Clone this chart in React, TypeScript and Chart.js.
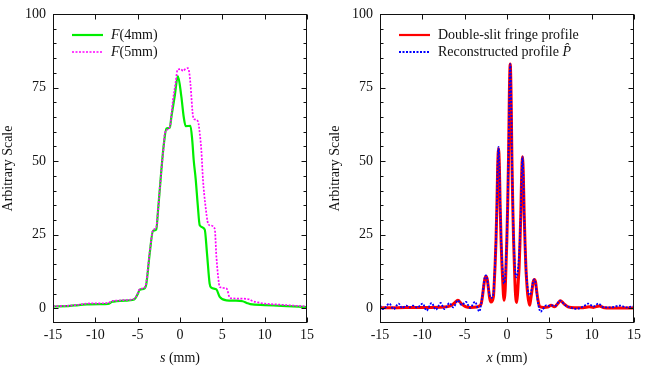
import { useEffect, useRef } from "react";
import { Chart, registerables } from "chart.js";
Chart.register(...registerables);

const FONT = '"Liberation Serif", "Times New Roman", serif';
const FS = 14;

// ---- tick labels ----
const xTicks = [-15, -10, -5, 0, 5, 10, 15];
const yTicks = [0, 25, 50, 75, 100];
const yMinorStep = 5;

// ---- left panel: F(4mm), F(5mm) ----
const s4 = [-15, -13, -12, -11, -9.5, -8.5, -8.0, -7.5, -6.5, -5.6, -5.3, -5.0, -4.76, -4.17, -3.97, -3.58, -3.19, -2.8, -2.6, -2.2, -1.9, -1.6, -1.2, -1.02, -0.63, -0.25, 0.16, 0.44, 0.67, 1.23, 1.45, 1.62, 1.85, 2.1, 2.33, 2.92, 3.19, 3.5, 3.7, 4.3, 4.69, 5.48, 6.5, 7.4, 7.9, 8.3, 10, 12, 15];
const f4 = [0.6, 0.8, 1.1, 1.3, 1.4, 1.5, 2.2, 2.4, 2.6, 2.8, 3.3, 4.8, 6.3, 6.8, 8.4, 18.6, 26.3, 26.8, 33, 47, 56, 61.1, 61.4, 65, 71.9, 78.9, 71.9, 65, 61.9, 62.0, 57, 50.3, 44, 35, 28.2, 26.8, 18.6, 8.4, 7.0, 6.4, 3.9, 2.7, 2.6, 2.4, 1.8, 1.4, 1.1, 0.8, 0.4];

const s5 = [-15, -13, -12, -11, -9.5, -8.5, -8.0, -7.5, -6.5, -5.6, -5.3, -5.0, -4.76, -4.17, -3.97, -3.58, -3.19, -2.8, -2.6, -2.2, -1.9, -1.8, -1.2, -0.83, -0.5, -0.3, 0.1, 0.35, 0.6, 0.94, 1.1, 1.23, 1.55, 1.74, 2.13, 2.35, 2.52, 2.72, 3.0, 3.31, 3.5, 4.1, 4.3, 4.6, 4.7, 5.5, 5.9, 7.0, 8.2, 8.6, 9.2, 10, 12, 15];
const f5 = [0.7, 0.9, 1.2, 1.6, 1.7, 1.8, 2.5, 2.6, 2.8, 3.0, 3.5, 5.0, 6.5, 7.0, 9, 19, 26.5, 27.5, 33, 47, 56, 59.4, 61.7, 70.7, 77, 81.0, 81.3, 80.6, 81.2, 81.6, 80, 76.4, 65, 64.2, 63.5, 59, 53.7, 43.5, 35, 28.8, 28.2, 27.1, 17.5, 8.4, 7.2, 6.7, 3.5, 3.3, 3.0, 2.4, 2.0, 1.6, 1.2, 0.6];

// ---- right panel: double-slit fringe profile & reconstruction ----
const xRed = [-15, -13, -11, -9, -7.5, -6.7, -6.2, -5.8, -5.4, -4.9, -4.3, -3.6, -3.25,
  -3.05, -2.9, -2.75, -2.62, -2.48, -2.34, -2.2, -2.05, -1.89,
  -1.6, -1.5, -1.4, -1.3, -1.2, -1.1, -1.0, -0.9, -0.8, -0.7, -0.6, -0.5, -0.42, -0.33,
  -0.22, -0.12, -0.02, 0.08, 0.18, 0.28, 0.38, 0.48, 0.58, 0.68, 0.78, 0.88, 0.98, 1.14,
  1.25, 1.33, 1.43, 1.53, 1.63, 1.73, 1.83, 1.93, 2.03, 2.13, 2.23, 2.33, 2.45, 2.68,
  2.8, 2.95, 3.08, 3.23, 3.38, 3.52, 3.68, 3.85,
  4.3, 4.8, 5.2, 5.6, 6.0, 6.3, 6.7, 7.2, 8, 9, 9.7, 10.2, 10.9, 11.5, 13, 15];
const yRed = [0.2, 0.2, 0.3, 0.3, 0.4, 0.8, 1.8, 2.7, 1.6, 0.6, 0.3, 0.4, 0.8,
  1.5, 4, 7.5, 10, 10.9, 10, 7, 3.5, 2.1,
  4, 9, 15, 23, 34, 48, 54.3, 48, 34, 23, 15, 9, 4.5, 2.7,
  6, 14, 23, 35, 51, 73, 83, 73, 51, 35, 23, 14, 6, 2.0,
  5, 9, 14, 22, 32, 45, 51.5, 45, 32, 22, 14, 9, 4.5, 1.0,
  3, 6, 8.8, 9.8, 8.8, 5.5, 2.5, 0.6,
  0.3, 0.4, 1.0, 0.5, 1.6, 2.6, 1.6, 0.5, 0.2, 0.2, 0.5, 0.3, 0.8, 0.2, 0.1, 0.1];

const xBlue = [-15, -14.6, -13.9, -13.4, -12.8, -12.4, -11.9, -11.5, -11.1, -10.6, -9.96, -9.5, -8.9, -8.4, -7.83, -7.4, -6.8, -6.34, -5.8, -5.35, -4.85, -4.37, -3.78, -3.27,
  -3.05, -2.9, -2.75, -2.62, -2.48, -2.34, -2.2, -2.05, -1.89,
  -1.6, -1.5, -1.4, -1.3, -1.2, -1.1, -1.0, -0.9, -0.8, -0.7, -0.6, -0.5, -0.35,
  -0.22, -0.12, -0.02, 0.08, 0.18, 0.28, 0.38, 0.48, 0.58, 0.68, 0.78, 0.88, 0.98, 1.14,
  1.25, 1.33, 1.43, 1.53, 1.63, 1.73, 1.83, 1.93, 2.03, 2.13, 2.23, 2.33, 2.45, 2.65,
  2.8, 2.95, 3.08, 3.23, 3.38, 3.52, 3.7, 3.98, 4.2, 4.69, 5.0, 5.28, 5.7, 6.26, 6.85, 7.44, 8.2, 9.0, 9.6, 10.2, 10.8, 11.4, 12.2, 13.4, 14.1, 14.9, 15];
const yBlue = [1.0, -0.3, 1.6, -0.3, 1.6, 0.1, 0.9, 0.3, 0.9, 0.2, 1.6, -0.8, 1.8, -0.5, 1.8, -0.3, 1.8, 0.3, 2.7, 1.1, 2.2, 0.1, 2.2, -1.1,
  1.5, 4.5, 8, 10.5, 11.2, 10, 7, 4.5, 3.5,
  5, 10, 16, 24, 35, 49, 54.8, 48, 35, 24, 17, 12, 8.4,
  10, 16, 24, 36, 52, 73, 83, 73, 52, 36, 24, 17, 12, 10.5,
  12, 14, 18, 24, 33, 45, 51.5, 45, 32, 22, 14, 10, 6.5, 4.5,
  5, 7, 9, 9.8, 8.5, 5, 1.2, -1.2, -0.5, 1.1, 0.8, 1.0, 0.8, 2.6, 1.1, 0.3, -0.2, 0.6, 1.6, 0.6, 1.6, 0.3, 0.3, 0.9, 0.3, 0.6, 0.6];

type Seg = { t: string; it?: boolean };
type LegendItem = { color: string; width: number; dash: number[]; label: Seg[] };
type FrameCfg = { xTitle: Seg[]; legend: LegendItem[] };

const pts = (xs: number[], ys: number[]) => xs.map((x, i) => ({ x, y: ys[i] }));

function drawSegs(ctx: CanvasRenderingContext2D, segs: Seg[], x: number, y: number, center: boolean) {
  const ws = segs.map((s) => {
    ctx.font = `${s.it ? "italic " : ""}${FS}px ${FONT}`;
    return ctx.measureText(s.t).width;
  });
  const total = ws.reduce((a, b) => a + b, 0);
  let cx = center ? x - total / 2 : x;
  segs.forEach((s, i) => {
    ctx.font = `${s.it ? "italic " : ""}${FS}px ${FONT}`;
    ctx.fillText(s.t, cx, y);
    cx += ws[i];
  });
}

function makeFrame(cfg: FrameCfg) {
  return {
    id: "frame",
    afterDraw(chart: any) {
      const ctx: CanvasRenderingContext2D = chart.ctx;
      const a = chart.chartArea;
      const xs = chart.scales.x;
      const ys = chart.scales.y;
      ctx.save();
      ctx.strokeStyle = "#111";
      ctx.lineWidth = 1;
      ctx.setLineDash([]);
      const L = Math.round(a.left) + 0.5, R = Math.round(a.right) - 0.5;
      const T = Math.round(a.top) + 0.5, B = Math.round(a.bottom) - 0.5;
      ctx.strokeRect(L, T, R - L, B - T);
      ctx.beginPath();
      xTicks.forEach((v) => {
        const px = Math.round(xs.getPixelForValue(v)) + 0.5;
        ctx.moveTo(px, B); ctx.lineTo(px, B - 5);
        ctx.moveTo(px, T); ctx.lineTo(px, T + 5);
      });
      for (let v = ys.min + yMinorStep; v < ys.max; v += yMinorStep) {
        const py = Math.round(ys.getPixelForValue(v)) + 0.5;
        const len = v % 25 === 0 ? 5 : 3;
        ctx.moveTo(L, py); ctx.lineTo(L + len, py);
        ctx.moveTo(R, py); ctx.lineTo(R - len, py);
      }
      ctx.stroke();

      ctx.fillStyle = "#111";
      ctx.textBaseline = "middle";
      ctx.font = `${FS}px ${FONT}`;
      ctx.textAlign = "center";
      xTicks.forEach((v) => ctx.fillText(String(v), xs.getPixelForValue(v), 335));
      ctx.textAlign = "right";
      yTicks.forEach((v) => ctx.fillText(String(v), a.left - 7, ys.getPixelForValue(v)));

      ctx.textAlign = "left";
      drawSegs(ctx, cfg.xTitle, (a.left + a.right) / 2, 358, true);

      ctx.save();
      ctx.translate(8.5, (a.top + a.bottom) / 2);
      ctx.rotate(-Math.PI / 2);
      drawSegs(ctx, [{ t: "Arbitrary Scale" }], 0, 0, true);
      ctx.restore();

      cfg.legend.forEach((it, i) => {
        const y = 35 + i * 17;
        ctx.strokeStyle = it.color;
        ctx.lineWidth = it.width;
        ctx.setLineDash(it.dash);
        ctx.beginPath();
        ctx.moveTo(72, y); ctx.lineTo(103, y);
        ctx.stroke();
        ctx.setLineDash([]);
        drawSegs(ctx, it.label, 111, y, false);
      });
      ctx.restore();
    },
  };
}

function makeConfig(datasets: any[], cfg: FrameCfg): any {
  return {
    type: "line",
    data: { datasets },
    options: {
      animation: false,
      responsive: false,
      layout: { padding: { left: 53, right: 20, top: 14, bottom: 45 } },
      scales: {
        x: { type: "linear", min: -15, max: 15, display: false },
        y: { type: "linear", min: -5, max: 100, display: false },
      },
      plugins: { legend: { display: false }, tooltip: { enabled: false } },
      elements: { point: { radius: 0 }, line: { cubicInterpolationMode: "monotone" } },
    },
    plugins: [makeFrame(cfg)],
  };
}

const GREEN = "#00ee00";
const MAGENTA = "#ff00ff";
const RED = "#ff0000";
const BLUE = "#0000ff";

export default function App() {
  const r1 = useRef<HTMLCanvasElement>(null);
  const r2 = useRef<HTMLCanvasElement>(null);
  useEffect(() => {
    const c1 = new Chart(
      r1.current!,
      makeConfig(
        [
          { label: "F(5mm)", data: pts(s5, f5), borderColor: MAGENTA, borderWidth: 1.7, borderDash: [2, 1.5], order: 0 },
          { label: "F(4mm)", data: pts(s4, f4), borderColor: GREEN, borderWidth: 2.2, order: 1 },
        ],
        {
          xTitle: [{ t: "s", it: true }, { t: " (mm)" }],
          legend: [
            { color: GREEN, width: 2.2, dash: [], label: [{ t: "F", it: true }, { t: "(4mm)" }] },
            { color: MAGENTA, width: 1.7, dash: [2, 1.5], label: [{ t: "F", it: true }, { t: "(5mm)" }] },
          ],
        }
      )
    );
    const c2 = new Chart(
      r2.current!,
      makeConfig(
        [
          { label: "Reconstructed", data: pts(xBlue, yBlue), borderColor: BLUE, borderWidth: 1.8, borderDash: [2, 1.5], order: 0 },
          { label: "Double-slit", data: pts(xRed, yRed), borderColor: RED, borderWidth: 3, order: 1 },
        ],
        {
          xTitle: [{ t: "x", it: true }, { t: " (mm)" }],
          legend: [
            { color: RED, width: 2.2, dash: [], label: [{ t: "Double-slit fringe profile" }] },
            { color: BLUE, width: 1.8, dash: [2, 1.5], label: [{ t: "Reconstructed profile " }, { t: "P\u0302", it: true }] },
          ],
        }
      )
    );
    return () => {
      c1.destroy();
      c2.destroy();
    };
  }, []);
  return (
    <div style={{ position: "absolute", left: 0, top: 0, width: 654, height: 368, background: "#fff" }}>
      <canvas ref={r1} width={327} height={368} style={{ position: "absolute", left: 0, top: 0, width: 327, height: 368 }} />
      <canvas ref={r2} width={327} height={368} style={{ position: "absolute", left: 327, top: 0, width: 327, height: 368 }} />
    </div>
  );
}
